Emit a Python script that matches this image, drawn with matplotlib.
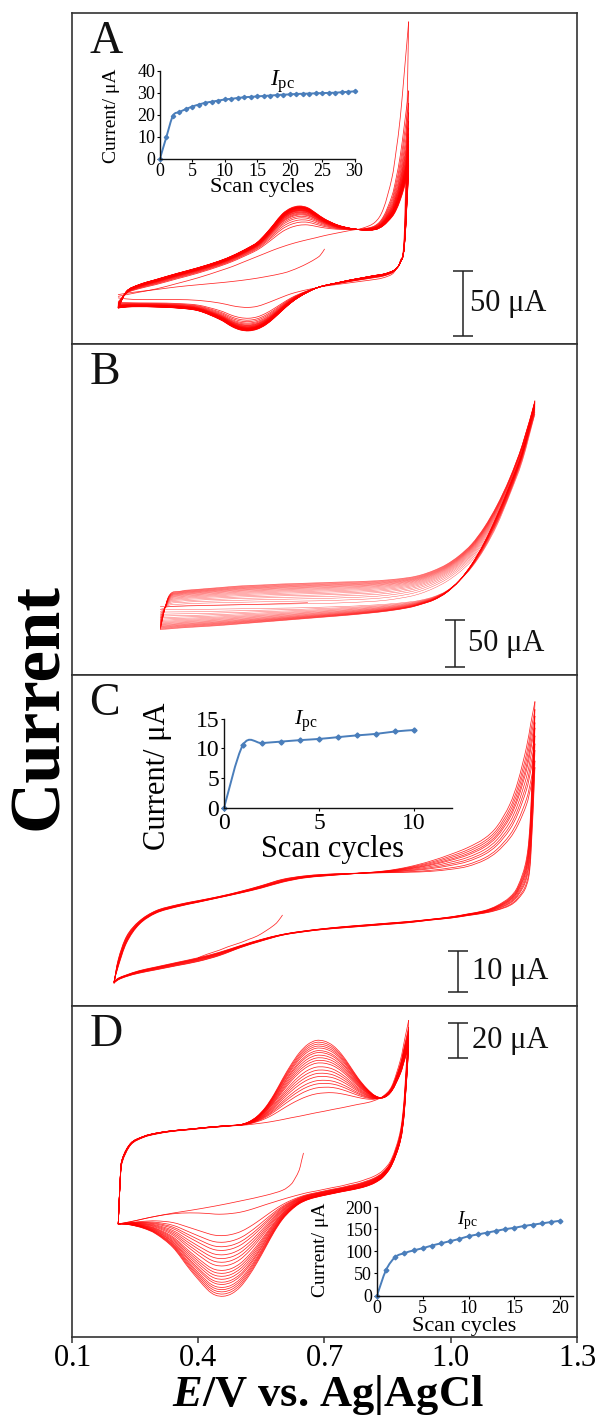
import numpy as np
import matplotlib
matplotlib.use("Agg")
import matplotlib.pyplot as plt
from matplotlib.path import Path
from matplotlib.patches import PathPatch

plt.rcParams["font.family"] = ["Liberation Serif", "DejaVu Serif"]
plt.rcParams["mathtext.fontset"] = "custom"
plt.rcParams["mathtext.rm"] = "Liberation Serif"
plt.rcParams["mathtext.it"] = "Liberation Serif:italic"
plt.rcParams["mathtext.bf"] = "Liberation Serif:bold"
plt.rcParams["mathtext.bfit"] = "Liberation Serif:italic:bold"

# ---------------- Panel A: repeated CV scans (30 cycles) ----------------
a_potential = [0.21, 0.23, 0.26, 0.30, 0.35, 0.40, 0.45, 0.48, 0.50, 0.52, 0.54, 0.56, 0.58, 0.60,
               0.62, 0.64, 0.66, 0.68, 0.70, 0.73, 0.76, 0.79, 0.82, 0.84, 0.86, 0.87, 0.88, 0.89, 0.90]
a_anodic_first = [-13.0, -11.7, -9.8, -7.3, -3.1, 1.3, 6.5, 9.8, 12.4, 15.0, 17.6, 20.2, 22.8, 25.1,
                  27.2, 29.0, 30.6, 32.1, 33.7, 35.7, 37.6, 39.4, 44.0, 54.4, 77.7, 98.4, 124.3, 160.6, 198.1]
a_cathodic_first = [-14.2, -15.0, -15.5, -15.5, -15.5, -16.1, -18.1, -20.2, -21.2, -21.5, -20.7, -18.6, -16.1, -13.5,
                    -11.1, -9.3, -7.8, -6.5, -5.2, -3.9, -2.6, -1.3, 0.0, 1.3, 3.9, 7.8, 14.2, 38.9, 198.1]
a_anodic_last = [-22.0, -9.1, -3.9, 0.0, 4.7, 9.1, 14.2, 18.1, 21.2, 24.6, 28.5, 35.0, 42.7, 50.5,
                 54.9, 56.5, 55.2, 51.0, 46.6, 42.0, 39.4, 38.1, 38.3, 41.4, 47.9, 53.1, 60.9, 71.2, 82.9]
a_cathodic_last = [-22.0, -21.2, -21.0, -21.2, -22.0, -24.1, -30.6, -36.3, -38.9, -39.6, -38.3, -35.0, -29.8, -23.8,
                   -18.1, -13.5, -9.8, -6.7, -4.7, -2.6, -0.5, 1.3, 3.1, 4.1, 6.2, 8.3, 13.0, 25.9, 82.9]
a_start_potential = [0.70, 0.69, 0.68, 0.66, 0.64, 0.62, 0.60, 0.56, 0.52, 0.48, 0.45, 0.40, 0.35, 0.30, 0.26, 0.23, 0.21]
a_start_current = [23.3, 18.6, 16.1, 12.4, 9.3, 6.7, 4.7, 2.1, 0.0, -1.6, -2.6, -4.1, -5.7, -7.8, -9.3, -10.6, -11.7]
a_cycles = list(range(31))
a_ipc = [0, 10.0, 19.5, 21.2, 22.5, 23.7, 24.6, 25.4, 25.9, 26.4, 26.9, 27.2, 27.6, 27.9, 28.1, 28.3,
         28.5, 28.7, 28.9, 29.1, 29.2, 29.4, 29.5, 29.6, 29.7, 29.8, 29.9, 30.0, 30.2, 30.4, 30.6]

# ---------------- Panel B: repeated scans, no redox peaks ----------------
b_potential = [0.31, 0.33, 0.36, 0.40, 0.45, 0.50, 0.55, 0.60, 0.65, 0.70, 0.75, 0.80,
               0.85, 0.90, 0.93, 0.96, 0.99, 1.02, 1.05, 1.08, 1.11, 1.14, 1.17, 1.20]
b_anodic_first = [0.0, 2.9, 3.6, 4.3, 4.7, 5.0, 5.4, 5.7, 6.1, 6.4, 7.2, 8.2,
                  10.0, 13.6, 17.2, 22.6, 29.7, 39.4, 51.9, 69.8, 93.1, 123.6, 163.0, 207.8]
b_cathodic_first = [0.0, 0.0, 0.0, 0.0, 0.4, 0.7, 1.1, 1.4, 1.8, 2.5, 3.2, 4.3,
                    5.7, 7.9, 10.0, 13.6, 19.7, 30.4, 44.8, 64.5, 89.6, 121.8, 157.6, 207.8]
b_anodic_last = [-21.5, 14.3, 19.7, 21.5, 23.3, 25.1, 26.1, 27.2, 27.9, 28.7, 29.4, 30.1,
                 31.5, 34.0, 36.9, 41.6, 48.0, 57.3, 69.8, 87.8, 111.0, 139.7, 175.5, 222.1]
b_cathodic_last = [-21.5, -20.8, -19.7, -18.6, -17.2, -15.4, -13.6, -11.8, -10.0, -8.2, -6.4, -4.3,
                   -1.8, 1.8, 5.4, 10.0, 17.9, 30.4, 48.4, 71.6, 100.3, 132.5, 168.4, 222.1]
# anodic current at 0.60 V for each successive scan
b_current_060 = [5.7, 8.5, 10.8, 12.8, 14.5, 16.0, 17.3, 18.5, 19.6, 20.6,
                 21.5, 22.3, 23.0, 23.7, 24.3, 24.9, 25.5, 26.1, 26.7, 27.2]
b_start_potential = [0.66, 0.60, 0.50, 0.40, 0.31]
b_start_current = [7.2, 6.2, 5.0, 4.0, 3.0]

# ---------------- Panel C: 10 cycles ----------------
c_potential = [0.20, 0.21, 0.23, 0.26, 0.30, 0.35, 0.40, 0.45, 0.50, 0.55, 0.60, 0.65, 0.70, 0.75,
               0.80, 0.85, 0.90, 0.95, 1.00, 1.04, 1.08, 1.11, 1.14, 1.16, 1.18, 1.19, 1.20]
c_anodic_first = [-10.1, -6.5, -0.8, 3.6, 6.3, 7.8, 8.9, 10.0, 11.1, 12.3, 13.7, 14.7, 15.2, 15.6,
                  16.0, 16.5, 17.4, 18.7, 20.4, 22.0, 24.2, 27.1, 32.3, 38.0, 46.1, 51.7, 57.0]
c_cathodic_first = [-10.1, -9.3, -8.5, -7.5, -6.6, -5.5, -4.4, -3.1, -1.5, 0.0, 1.2, 2.0, 2.6, 3.1,
                    3.5, 3.9, 4.3, 4.8, 5.4, 6.1, 6.9, 8.1, 10.1, 12.9, 19.4, 30.7, 57.0]
c_anodic_last = [-10.5, -4.8, 0.8, 4.4, 6.9, 8.3, 9.3, 10.3, 11.5, 12.9, 14.4, 15.2, 15.6, 15.8,
                 15.9, 16.0, 16.1, 16.3, 16.8, 17.5, 19.0, 21.0, 24.2, 27.5, 32.3, 36.4, 41.2]
c_cathodic_last = [-10.5, -9.7, -8.9, -8.1, -7.3, -6.3, -5.3, -3.9, -2.0, -0.4, 1.0, 1.8, 2.4, 2.8,
                   3.2, 3.6, 4.0, 4.6, 5.1, 5.7, 6.3, 7.0, 8.1, 9.7, 12.9, 19.4, 41.2]
c_start_potential = [0.60, 0.59, 0.58, 0.56, 0.54, 0.52, 0.50, 0.47, 0.45, 0.42, 0.40]
c_start_current = [5.8, 4.4, 3.4, 2.0, 0.8, 0.0, -0.8, -1.8, -2.6, -3.6, -4.4]
c_cycles = list(range(11))
c_ipc = [0, 10.6, 10.9, 11.15, 11.4, 11.6, 11.9, 12.2, 12.45, 12.85, 13.1]

# ---------------- Panel D: 20 cycles ----------------
d_potential = [0.21, 0.215, 0.22, 0.24, 0.27, 0.30, 0.34, 0.38, 0.42, 0.44, 0.46, 0.48, 0.50, 0.52,
               0.54, 0.56, 0.58, 0.60, 0.62, 0.64, 0.66, 0.68, 0.70, 0.72, 0.74, 0.76, 0.78, 0.80,
               0.82, 0.84, 0.86, 0.88, 0.89, 0.90]
d_anodic_first = [-12.5, 13.5, 23.1, 32.7, 36.9, 38.8, 40.4, 41.3, 42.3, 42.7, 43.1, 43.5, 43.8, 44.2,
                  44.8, 45.4, 46.2, 47.1, 48.1, 49.0, 50.0, 51.0, 51.9, 52.9, 53.8, 54.8, 55.8, 56.7,
                  58.1, 60.6, 66.3, 80.8, 92.3, 103.8]
d_cathodic_first = [-12.5, -12.3, -12.1, -11.2, -9.6, -8.1, -6.7, -6.2, -6.5, -6.9, -6.9, -6.5, -5.8, -4.6,
                    -3.1, -1.5, 0.0, 1.5, 2.9, 4.2, 5.4, 6.3, 7.3, 8.3, 9.2, 10.4, 11.5, 13.1,
                    15.0, 18.3, 25.0, 40.4, 61.5, 103.8]
d_anodic_last = [-12.5, 15.4, 25.0, 33.7, 37.5, 39.4, 40.8, 41.7, 42.7, 43.1, 43.5, 43.8, 44.2, 45.8,
                 49.0, 54.2, 61.5, 70.2, 78.3, 85.2, 90.0, 92.3, 91.9, 89.4, 84.6, 77.9, 70.8, 65.0,
                 60.8, 59.6, 63.5, 73.1, 80.8, 88.5]
d_cathodic_last = [-12.5, -12.5, -12.5, -13.1, -15.0, -18.3, -26.0, -38.5, -49.6, -53.1, -53.8, -52.3, -48.5, -42.3,
                   -34.6, -26.0, -17.3, -10.0, -4.8, -1.0, 1.3, 2.7, 3.8, 4.8, 5.8, 6.7, 7.7, 9.0,
                   11.0, 14.4, 21.2, 34.6, 51.9, 88.5]
d_start_potential = [0.65, 0.645, 0.64, 0.63, 0.62, 0.60, 0.56, 0.50, 0.44, 0.38, 0.34, 0.30, 0.27, 0.24, 0.21]
d_start_current = [27.9, 23.1, 18.3, 13.5, 10.0, 6.7, 3.8, 0.6, -2.3, -4.8, -6.3, -8.1, -9.6, -11.2, -12.5]
d_cycles = list(range(21))
d_ipc = [0, 58, 87, 96, 102, 107, 113, 118, 123, 128, 134, 138, 142, 146, 150, 153, 157, 160, 163, 166, 169]

x_ticks = [0.1, 0.4, 0.7, 1.0, 1.3]
x_tick_labels = ["0.1", "0.4", "0.7", "1.0", "1.3"]

RED = "#ff0000"
BLUE = "#4a7ebb"
FRAME = "#333333"


def smooth_path(x, y):
    """Cubic Bezier path running through every (x, y) point."""
    x = np.asarray(x, float)
    y = np.asarray(y, float)
    n = len(x)
    verts = [(x[0], y[0])]
    codes = [Path.MOVETO]
    for i in range(n - 1):
        xa, ya = (x[i - 1], y[i - 1]) if i > 0 else (x[i], y[i])
        xb, yb = (x[i + 2], y[i + 2]) if i + 2 < n else (x[i + 1], y[i + 1])
        c1 = (x[i] + (x[i + 1] - xa) / 6.0, y[i] + (y[i + 1] - ya) / 6.0)
        c2 = (x[i + 1] - (xb - x[i]) / 6.0, y[i + 1] - (yb - y[i]) / 6.0)
        verts += [c1, c2, (x[i + 1], y[i + 1])]
        codes += [Path.CURVE4] * 3
    return Path(verts, codes)


def add_curve(ax, x, y, color=RED, lw=0.55, alpha=0.85):
    ax.add_patch(PathPatch(smooth_path(x, y), fill=False, ec=color, lw=lw, alpha=alpha,
                           joinstyle="round", capstyle="round"))


def draw_scans(ax, potential, an_first, cat_first, an_last, cat_last, weights, lw=0.55, alpha=0.85):
    e = np.asarray(potential)
    af, cf = np.asarray(an_first), np.asarray(cat_first)
    al, cl = np.asarray(an_last), np.asarray(cat_last)
    for w in weights:
        add_curve(ax, e, af + w * (al - af), lw=lw, alpha=alpha)
        add_curve(ax, e[::-1], (cf + w * (cl - cf))[::-1], lw=lw, alpha=alpha)


def scale_bar(ax, x, y0, length, label, text_x):
    half = 0.024
    ax.plot([x, x], [y0, y0 + length], color="#222222", lw=1.1, solid_capstyle="butt")
    for yy in (y0, y0 + length):
        ax.plot([x - half, x + half], [yy, yy], color="#222222", lw=1.1, solid_capstyle="butt")
    ax.text(text_x, y0 + length / 2, label, fontsize=22, ha="left", va="center", color="#111111")


def style_panel(ax, ylim):
    ax.set_xlim(0.1, 1.3)
    ax.set_ylim(*ylim)
    for s in ax.spines.values():
        s.set_color(FRAME)
        s.set_linewidth(1.2)
    ax.set_yticks([])
    ax.set_xticks([])


def inset(fig, rect, cycles, ipc, xlim, ylim, xticks, yticks, tick_fs, ylab_fs, xlab_fs,
          ylab_pos, xlab_pos, ipc_pos, ipc_fs, ms):
    ax = fig.add_axes(rect)
    ax.set_facecolor("none")
    ax.set_xlim(*xlim)
    ax.set_ylim(*ylim)
    for side in ("top", "right"):
        ax.spines[side].set_visible(False)
    for side in ("left", "bottom"):
        ax.spines[side].set_color("#111111")
        ax.spines[side].set_linewidth(1.0)
    ax.set_xticks(xticks)
    ax.set_yticks(yticks)
    ax.tick_params(direction="out", length=2.5, width=0.8, labelsize=tick_fs, pad=1)
    ax.add_patch(PathPatch(smooth_path(cycles, ipc), fill=False, ec=BLUE, lw=1.4))
    ax.plot(cycles, ipc, ls="none", marker="D", ms=ms, color=BLUE, clip_on=False)
    ax.text(*ylab_pos, "Current/ \u03bcA", rotation=90, transform=ax.transAxes,
            ha="center", va="center", fontsize=ylab_fs)
    ax.text(*xlab_pos, "Scan cycles", transform=ax.transAxes,
            ha="center", va="center", fontsize=xlab_fs)
    ax.text(*ipc_pos, r"$I_{\mathrm{pc}}$", ha="left", va="baseline", fontsize=ipc_fs)
    return ax


fig = plt.figure(figsize=(6.1, 14.17), dpi=100)

left, width, height = 0.1180, 0.8279, 0.2336
ax_a = fig.add_axes([left, 0.7572, width, height])
ax_b = fig.add_axes([left, 0.5236, width, height])
ax_c = fig.add_axes([left, 0.2900, width, height])
ax_d = fig.add_axes([left, 0.05646, width, height])

# Panel A
style_panel(ax_a, (-49.7, 204.9))
add_curve(ax_a, a_start_potential, a_start_current)
a_w = [(v - a_ipc[1]) / (a_ipc[-1] - a_ipc[1]) for v in a_ipc[1:]]
draw_scans(ax_a, a_potential, a_anodic_first, a_cathodic_first, a_anodic_last, a_cathodic_last, a_w)
scale_bar(ax_a, 1.029, -43.5, 50, "50 \u03bcA", 1.046)

# Panel B
style_panel(ax_b, (-69.8, 282.3))
add_curve(ax_b, b_start_potential, b_start_current, lw=0.45, alpha=0.75)
b_w = [(v - b_current_060[0]) / (b_current_060[-1] - b_current_060[0]) for v in b_current_060]
draw_scans(ax_b, b_potential, b_anodic_first, b_cathodic_first, b_anodic_last, b_cathodic_last, b_w,
           lw=0.35, alpha=0.65)
scale_bar(ax_b, 1.010, -60.9, 50, "50 \u03bcA", 1.041)

# Panel C
style_panel(ax_c, (-16.0, 63.4))
add_curve(ax_c, c_start_potential, c_start_current)
c_w = [(v - c_ipc[1]) / (c_ipc[-1] - c_ipc[1]) for v in c_ipc[1:]]
draw_scans(ax_c, c_potential, c_anodic_first, c_cathodic_first, c_anodic_last, c_cathodic_last, c_w)
scale_bar(ax_c, 1.017, -12.7, 10, "10 \u03bcA", 1.051)

# Panel D
style_panel(ax_d, (-77.1, 112.0))
add_curve(ax_d, d_start_potential, d_start_current)
d_w = [(v - d_ipc[1]) / (d_ipc[-1] - d_ipc[1]) for v in d_ipc[1:]]
draw_scans(ax_d, d_potential, d_anodic_first, d_cathodic_first, d_anodic_last, d_cathodic_last, d_w)
scale_bar(ax_d, 1.017, 82.3, 20, "20 \u03bcA", 1.051)

ax_d.set_xticks(x_ticks)
ax_d.set_xticklabels([r"$\mathrm{%s}$" % t for t in x_tick_labels])
ax_d.tick_params(axis="x", direction="out", length=4.5, width=1.1, labelsize=22, pad=0.5, color=FRAME)

for ax, letter in zip((ax_a, ax_b, ax_c, ax_d), "ABCD"):
    ax.text(0.034, 0.878, letter, transform=ax.transAxes, fontsize=33,
            ha="left", va="baseline", color="#111111")

# Insets: cathodic peak current vs. scan number
inset(fig, [0.2623, 0.8881, 0.3189, 0.0620], a_cycles, a_ipc, (0, 30), (0, 40),
      [0, 5, 10, 15, 20, 25, 30], [0, 10, 20, 30, 40], 13, 14, 16,
      (-0.247, 0.483), (0.524, -0.333), (17.0, 33.4), 17, 2.2)
inset(fig, [0.3672, 0.4298, 0.3738, 0.0630], c_cycles, c_ipc, (0, 12), (0, 15),
      [0, 5, 10], [0, 5, 10, 15], 17, 22, 22,
      (-0.29, 0.359), (0.477, -0.46), (3.7, 13.9), 16, 2.6)
inset(fig, [0.6180, 0.0857, 0.3213, 0.0625], d_cycles, d_ipc, (0, 21.4), (0, 200),
      [0, 5, 10, 15, 20], [0, 50, 100, 150, 200], 13, 14, 16,
      (-0.29, 0.517), (0.447, -0.35), (8.7, 161.6), 14, 2.4)

fig.text(40 / 610, 1 - 707 / 1417, "Current", rotation=90, fontsize=51, fontweight="bold",
         ha="center", va="center")
fig.text(328 / 610, 1 - 1406 / 1417, r"$\mathbfit{E}$/V vs. Ag|AgCl", fontsize=32,
         fontweight="bold", ha="center", va="baseline")

fig.savefig("out.png", dpi=100)
